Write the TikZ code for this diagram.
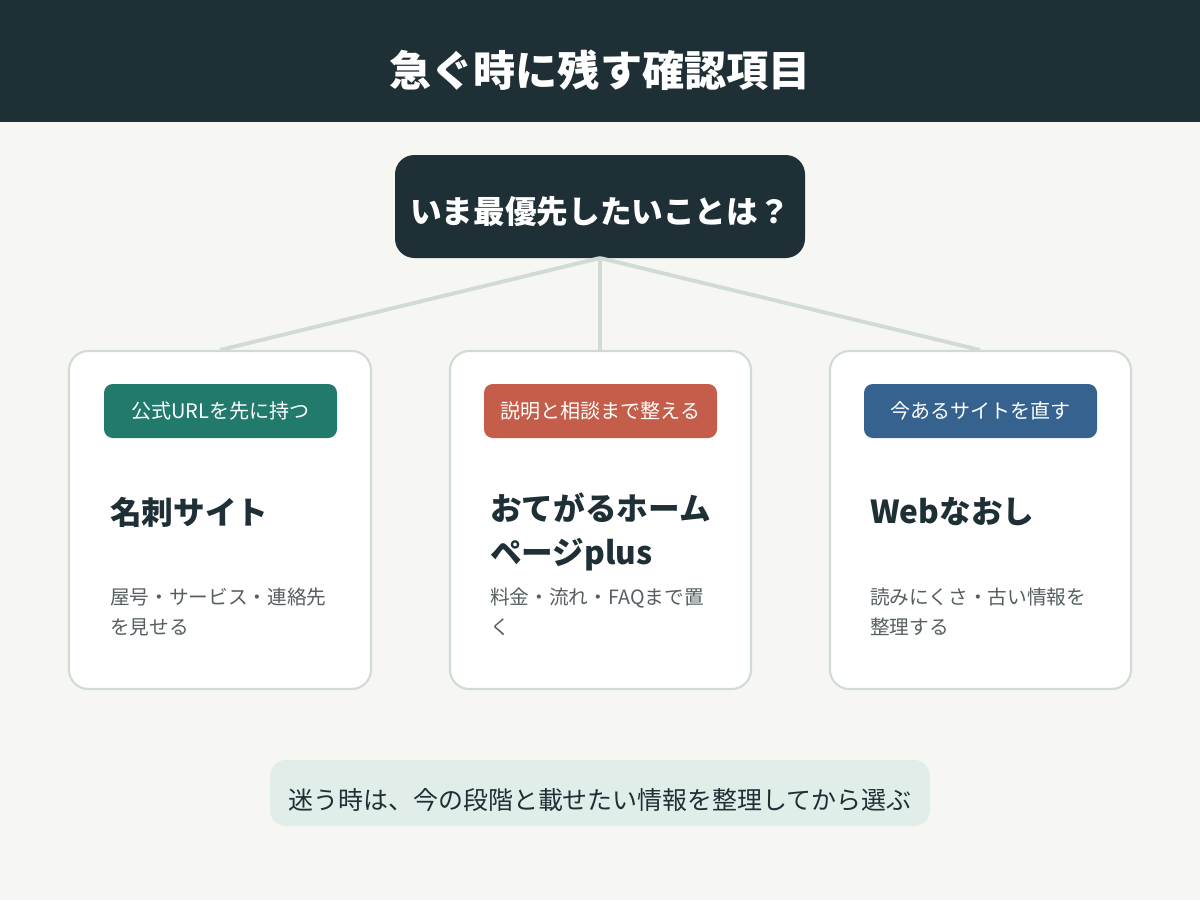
\documentclass[tikz,border=0pt]{standalone}
\usepackage{fontspec}
\setmainfont{Noto Sans CJK JP}
\usetikzlibrary{positioning}
\definecolor{dark}{HTML}{1E2F35}
\definecolor{paper}{HTML}{F6F6F3}
\definecolor{edge}{HTML}{D0DBD5}
\definecolor{teal}{HTML}{217A6C}
\definecolor{brick}{HTML}{C45E4B}
\definecolor{navy}{HTML}{35628E}
\definecolor{mint}{HTML}{E0EDE8}
\definecolor{grey}{HTML}{555F62}
\tikzset{
	card/.style={draw=edge,line width=1.2pt,fill=white,rounded corners=11pt},
	tag/.style={rounded corners=5pt,text=white,font=\fontsize{11.4}{13}\selectfont},
	heading/.style={anchor=west,align=left,text=dark,font=\fontsize{18}{25}\selectfont\bfseries},
	note/.style={anchor=north west,align=left,text=grey,font=\fontsize{11.2}{17}\selectfont},
	branch/.style={draw=edge,line width=2.2pt},
}
\begin{document}
\begin{tikzpicture}[x=0.02cm,y=-0.02cm]
	\fill[paper] (0,0) rectangle (1200,900);
	\fill[dark] (0,0) rectangle (1200,122);
	\node[text=white,font=\fontsize{24}{28}\selectfont\bfseries] (title) at (600,70) {急ぐ時に残す確認項目};

	\fill[dark,rounded corners=11pt] (395,155) rectangle (805,258);
	\node[text=white,font=\fontsize{18}{21}\selectfont\bfseries] (ask) at (600,212) {いま最優先したいことは？};
	\coordinate (root) at (600,258);

	% cards
	\draw[card] (69,351) rectangle (371,689);
	\draw[card] (450,351) rectangle (751,689);
	\draw[card] (830,351) rectangle (1131,689);
	\coordinate (c1) at (220,350);
	\coordinate (c2) at (600,350);
	\coordinate (c3) at (980,350);
	\foreach \c in {c1,c2,c3}
		\draw[branch] (root) -- (\c);

	\fill[teal,rounded corners=5pt] (104,384) rectangle (337,438);
	\fill[brick,rounded corners=5pt] (484,384) rectangle (717,438);
	\fill[navy,rounded corners=5pt] (864,384) rectangle (1097,438);
	\node[tag] (tag1) at (220.5,411) {公式URLを先に持つ};
	\node[tag] (tag2) at (600.5,411) {説明と相談まで整える};
	\node[tag] (tag3) at (980.5,411) {今あるサイトを直す};

	\node[heading] (site1) at (104,512) {名刺サイト};
	\node[heading,anchor=north west] (site2) at (484,487) {おてがるホーム\\ページplus};
	\node[heading] (site3) at (864,512) {Webなおし};

	\node[note] (note1) at (104,582) {屋号・サービス・連絡先\\を見せる};
	\node[note] (note2) at (484,582) {料金・流れ・FAQまで置\\く};
	\node[note] (note3) at (864,582) {読みにくさ・古い情報を\\整理する};

	\fill[mint,rounded corners=9pt] (270,760) rectangle (930,826);
	\node[text=dark,font=\fontsize{14.2}{17}\selectfont] (hint) at (600,800) {迷う時は、今の段階と載せたい情報を整理してから選ぶ};
\end{tikzpicture}
\end{document}
